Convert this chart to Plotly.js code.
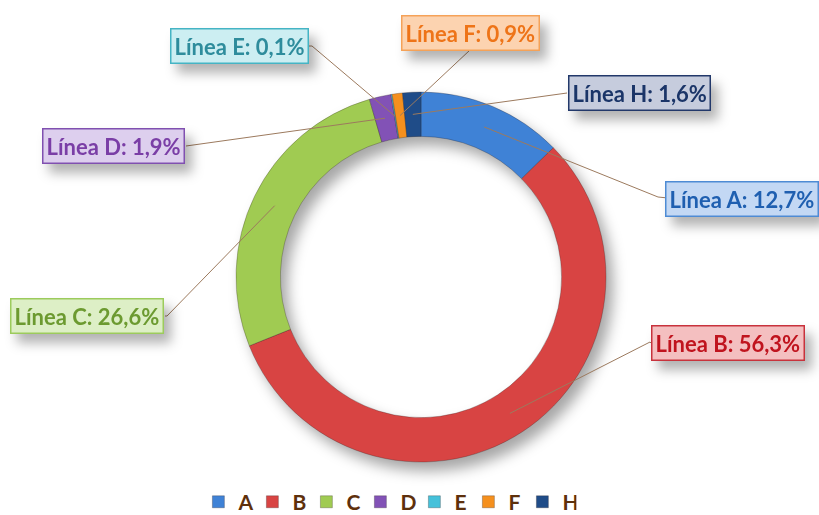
<!DOCTYPE html>
<html>
<head>
<meta charset="utf-8">
<script src="https://cdn.plot.ly/plotly-3.0.1.min.js"></script>
<style>
  html, body { margin: 0; padding: 0; background: #ffffff; }
  #chart { width: 819px; height: 515px; }
  .pielayer { filter: drop-shadow(7px 9px 7px rgba(0,0,0,0.35)); }
  .annotation { filter: drop-shadow(7px 9px 6px rgba(0,0,0,0.30)); }
</style>
</head>
<body>
<div id="chart"></div>
<script>
// ---- data ----
var categories = ["A", "B", "C", "D", "E", "F", "H"];
var values = [12.7, 56.3, 26.6, 1.9, 0.1, 0.9, 1.6];
var labelTexts = ["Línea A: 12,7%", "Línea B: 56,3%", "Línea C: 26,6%", "Línea D: 1,9%",
                  "Línea E: 0,1%", "Línea F: 0,9%", "Línea H: 1,6%"];

// ---- styles ----
var sliceColors = ["#3F82D6", "#D84443", "#A0CB52", "#8252B6", "#45C1DA", "#F5901E", "#1F4C88"];
var textColors  = ["#1F5FB0", "#C0141E", "#6C9A30", "#7A3EA6", "#2E8C9C", "#EE7418", "#1B3568"];
var boxBorders  = ["#4E8BD4", "#C8323C", "#9CCB5C", "#8050B0", "#45B4C4", "#F5A258", "#22386A"];
var boxFills    = ["#C3D8F4", "#F4BFC0", "#DDEFC6", "#DDCFEE", "#CCEEF2", "#FCD3B0", "#C6CCDD"];
// label box centres (px) and leader line anchor points (px)
var boxCentres = [[742, 199], [728, 343], [87, 316], [113, 146], [239, 46], [471, 33], [639, 93]];
var leaderBends = [[[658, 197], [668, 198]], [[650, 342], [651, 343]], [[167, 316], [165, 316]],
                   [[186, 146], [186, 146]], [[312, 46], [309, 46]], [[470, 50], [470, 50]],
                   [[567, 93], [567, 93]]];

var W = 819, H = 515;
var cx = 421, cy = 277, R = 185, hole = 0.76;

function px(x) { return x / W; }
function py(y) { return 1 - y / H; }

var total = values.reduce(function (a, b) { return a + b; }, 0);
var midR = R * (1 + hole) / 2;

var shapes = [];
var annotations = [];
var cum = 0;
for (var i = 0; i < values.length; i++) {
  var frac = (cum + values[i] / 2) / total;
  cum += values[i];
  var ang = frac * 2 * Math.PI;
  var sx = cx + midR * Math.sin(ang);
  var sy = cy - midR * Math.cos(ang);
  var b = leaderBends[i];
  shapes.push({
    type: "path", xref: "paper", yref: "paper",
    path: "M" + px(sx) + "," + py(sy) + " L" + px(b[0][0]) + "," + py(b[0][1]) +
          " L" + px(b[1][0]) + "," + py(b[1][1]),
    line: { color: "#9C7A5E", width: 1 }
  });
  annotations.push({
    xref: "paper", yref: "paper",
    x: px(boxCentres[i][0]), y: py(boxCentres[i][1]),
    xanchor: "center", yanchor: "middle",
    text: "<b>" + labelTexts[i] + "</b>",
    showarrow: false,
    font: { family: "Lato, 'Open Sans', sans-serif", size: 22, color: textColors[i] },
    bgcolor: boxFills[i],
    bordercolor: boxBorders[i],
    borderwidth: 1.5,
    borderpad: 3
  });
}

var trace = {
  type: "pie",
  labels: categories,
  values: values,
  sort: false,
  direction: "clockwise",
  rotation: 0,
  hole: hole,
  textinfo: "none",
  hoverinfo: "label+percent",
  marker: { colors: sliceColors, line: { color: "rgba(40,30,30,0.35)", width: 0.8 } },
  domain: { x: [px(cx - R), px(cx + R)], y: [py(cy + R), py(cy - R)] }
};

var layout = {
  width: W, height: H,
  margin: { l: 0, r: 0, t: 0, b: 0, autoexpand: false },
  paper_bgcolor: "#ffffff",
  showlegend: true,
  legend: {
    orientation: "h",
    x: 0.473, xanchor: "center",
    y: 0.025, yanchor: "middle",
    entrywidth: 9, entrywidthmode: "pixels",
    font: { family: "Lato, 'Open Sans', sans-serif", size: 21, color: "#5E300C", weight: "bold" },
    bgcolor: "rgba(0,0,0,0)"
  },
  shapes: shapes,
  annotations: annotations
};

Plotly.newPlot("chart", [trace], layout, { displayModeBar: false, staticPlot: true });
</script>
</body>
</html>
